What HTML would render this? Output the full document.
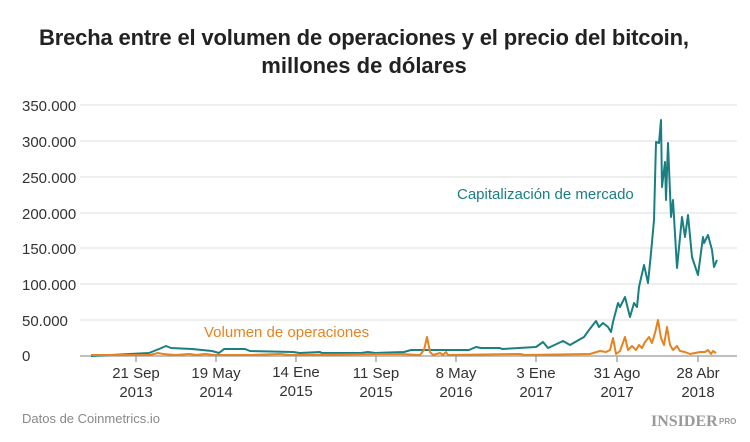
<!DOCTYPE html>
<html><head><meta charset="utf-8"><style>
body{margin:0;background:#fff;width:750px;height:437px;overflow:hidden;font-family:"Liberation Sans",sans-serif}
</style></head><body>
<svg width="750" height="437" xmlns="http://www.w3.org/2000/svg" font-family="Liberation Sans, sans-serif">
<text x="364" y="45" text-anchor="middle" font-size="22" font-weight="bold" fill="#222" textLength="650">Brecha entre el volumen de operaciones y el precio del bitcoin,</text>
<text x="364" y="73" text-anchor="middle" font-size="22" font-weight="bold" fill="#222">millones de dólares</text>
<g stroke="#e3e3e3" stroke-width="1.3">
<line x1="80" x2="737" y1="105" y2="105"/><line x1="80" x2="737" y1="141" y2="141"/>
<line x1="80" x2="737" y1="177" y2="177"/><line x1="80" x2="737" y1="213" y2="213"/>
<line x1="80" x2="737" y1="248" y2="248"/><line x1="80" x2="737" y1="284" y2="284"/>
<line x1="80" x2="737" y1="320" y2="320"/>
</g>
<g font-size="15" fill="#333">
<text x="22" y="111">350.000</text><text x="22" y="147">300.000</text><text x="22" y="183">250.000</text>
<text x="22" y="219">200.000</text><text x="22" y="254">150.000</text><text x="22" y="290">100.000</text>
<text x="22" y="326">50.000</text><text x="22" y="361">0</text>
</g>
<line x1="80" x2="737" y1="356" y2="356" stroke="#999" stroke-width="1.3"/>
<g stroke="#999" stroke-width="1.3">
<line x1="136" x2="136" y1="356" y2="362"/><line x1="216" x2="216" y1="356" y2="362"/>
<line x1="296" x2="296" y1="356" y2="362"/><line x1="376" x2="376" y1="356" y2="362"/>
<line x1="456" x2="456" y1="356" y2="362"/><line x1="536" x2="536" y1="356" y2="362"/>
<line x1="617" x2="617" y1="356" y2="362"/><line x1="698" x2="698" y1="356" y2="362"/>
</g>
<g font-size="15" fill="#333" text-anchor="middle">
<text x="136" y="378">21 Sep</text><text x="136" y="397">2013</text>
<text x="216" y="378">19 May</text><text x="216" y="397">2014</text>
<text x="296" y="377">14 Ene</text><text x="296" y="396">2015</text>
<text x="376" y="378">11 Sep</text><text x="376" y="397">2015</text>
<text x="456" y="378">8 May</text><text x="456" y="397">2016</text>
<text x="536" y="378">3 Ene</text><text x="536" y="397">2017</text>
<text x="617" y="378">31 Ago</text><text x="617" y="397">2017</text>
<text x="698" y="378">28 Abr</text><text x="698" y="397">2018</text>
</g>
<polyline fill="none" stroke="#1a7f82" stroke-width="2" stroke-linejoin="round" points="91,356 149,353 159,349 166,346 171,348 192,349 212,351 219,353 224,349 245,349 250,351 293,352 300,353 320,352 322,353 361,353 368,352 375,353 404,352 411,350 469,350 476,347 481,348 500,348 502,349 536,347 543,342 548,348 563,341 570,345 584,337 589,330 596,321 599,327 603,323 608,327 611,332 613,322 618,303 620,307 625,297 630,317 634,303 637,307 639,287 644,265 648,283 651,253 654,220 656,142 659,143 661,120 662,187 665,162 666,200 668,143 671,217 673,200 677,268 682,217 685,237 688,215 692,257 698,275 703,237 704,243 708,235 712,250 714,267 717,260"/>
<polyline fill="none" stroke="#e8821e" stroke-width="2" stroke-linejoin="round" points="91,355 150,355 158,353 163,354 175,355 190,354 196,355 205,354 215,355 250,355 280,354 290,355 400,354 420,355 424,350 427,337 430,352 433,355 440,353 443,355 446,352 448,355 520,354 525,355 590,354 600,351 606,352 610,350 613,338 616,354 620,351 625,337 628,350 632,346 636,350 639,345 642,348 645,342 649,337 652,343 655,333 658,320 661,338 664,345 667,327 670,345 673,350 677,346 680,351 685,352 690,354 695,353 700,352 705,352 708,350 711,354 713,351 716,353"/>
<text x="457" y="199" font-size="15" fill="#1a7f82">Capitalización de mercado</text>
<text x="204" y="337" font-size="15" fill="#e8821e">Volumen de operaciones</text>
<text x="22" y="423" font-size="13" fill="#888">Datos de Coinmetrics.io</text>
<text x="651" y="426" font-size="16" font-weight="bold" font-family="Liberation Serif, serif" fill="#999">INSIDER</text>
<text x="719" y="424" font-size="8" font-weight="bold" fill="#999">PRO</text>
</svg>
</body></html>
